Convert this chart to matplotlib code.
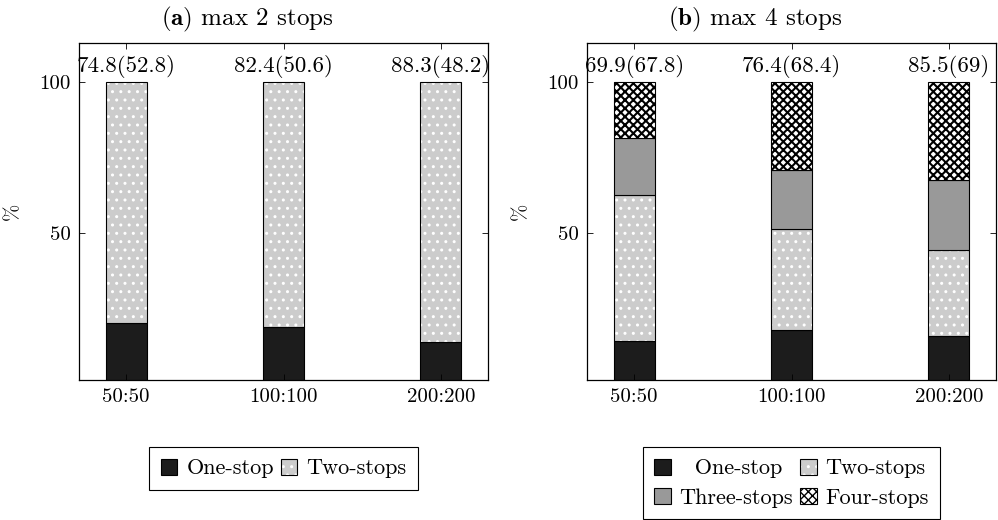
import numpy as np
import matplotlib.pyplot as plt
from matplotlib.patches import Patch
from matplotlib.legend_handler import HandlerTuple

plt.rcParams['font.family'] = ['cmr10', 'DejaVu Serif']
plt.rcParams['mathtext.fontset'] = 'cm'
plt.rcParams['axes.formatter.use_mathtext'] = True
plt.rcParams['hatch.linewidth'] = 1.0

# data
categories = ["50:50", "100:100", "200:200"]
y_ticks = [50, 100]

a_one = [20.1, 18.7, 14.0]
a_two = [79.9, 81.3, 86.0]
a_labels = ["74.8(52.8)", "82.4(50.6)", "88.3(48.2)"]

b_one = [14.2, 17.9, 15.9]
b_two = [48.4, 33.3, 28.5]
b_three = [19.0, 19.7, 23.1]
b_four = [18.4, 29.1, 32.5]
b_labels = ["69.9(67.8)", "76.4(68.4)", "85.5(69)"]

# fill colour, hatch, hatch colour
styles = {
    "One-stop": ("#1c1c1c", None, None),
    "Two-stops": ("#cccccc", "..", "white"),
    "Three-stops": ("#999999", None, None),
    "Four-stops": ("white", "xxxx", "black"),
}

FS = 15
BAR_W = 0.26
CROSS_LW = 1.5


def thick_hatch(artists):
    for p in artists:
        if hasattr(p, "set_hatch_linewidth"):
            p.set_hatch_linewidth(CROSS_LW)


def draw_stack(ax, series, names, labels):
    x = np.arange(len(categories))
    bottom = np.zeros(len(categories))
    for vals, name in zip(series, names):
        face, hatch, hcol = styles[name]
        vals = np.asarray(vals)
        ax.bar(x, vals, BAR_W, bottom=bottom, color=face, linewidth=0)
        if hatch:
            lw = CROSS_LW if name == "Four-stops" else 1.0
            with plt.rc_context({"hatch.linewidth": lw}):
                bars = ax.bar(x, vals, BAR_W, bottom=bottom, color="none",
                              edgecolor=hcol, hatch=hatch, linewidth=0)
            if name == "Four-stops":
                thick_hatch(bars)
        ax.bar(x, vals, BAR_W, bottom=bottom, color="none",
               edgecolor="black", linewidth=0.8)
        bottom += vals
    for xi, top, lab in zip(x, bottom, labels):
        ax.annotate(lab, (xi, top), xytext=(0, 3), textcoords="offset points",
                    ha="center", va="bottom", fontsize=16.5)

    ax.set_xlim(-0.3, 2.3)
    ax.set_ylim(1.3, 112.9)
    ax.set_xticks(x)
    ax.set_xticklabels(categories, fontsize=FS)
    ax.set_yticks(y_ticks)
    ax.set_yticklabels([str(t) for t in y_ticks], fontsize=FS)
    ax.tick_params(direction="in", top=True, right=True, length=4, width=0.6)
    ax.tick_params(axis="x", pad=6)
    ax.tick_params(axis="y", pad=6)
    for s in ax.spines.values():
        s.set_linewidth(0.9)
    ax.set_ylabel("%", fontsize=FS)
    ax.yaxis.set_label_coords(-0.139, 0.5)


def handle(name):
    face, hatch, hcol = styles[name]
    if name == "Two-stops":
        return (Patch(facecolor=face, linewidth=0),
                Patch(facecolor="none", edgecolor=hcol, hatch=hatch, linewidth=0),
                Patch(facecolor="none", edgecolor="black", linewidth=0.8))
    if hatch:
        with plt.rc_context({"hatch.linewidth": CROSS_LW}):
            p = Patch(facecolor=face, edgecolor=hcol, hatch=hatch, linewidth=0.8)
        thick_hatch([p])
        return p
    return Patch(facecolor=face, edgecolor="black", linewidth=0.8)


fig = plt.figure(figsize=(9.98, 5.2), dpi=100)
W, H = 998, 520
ax_a = fig.add_axes([79 / W, 1 - 380 / H, 409 / W, 337 / H])
ax_b = fig.add_axes([587 / W, 1 - 380 / H, 409 / W, 337 / H])

names_a = ["One-stop", "Two-stops"]
names_b = ["One-stop", "Two-stops", "Three-stops", "Four-stops"]
draw_stack(ax_a, [a_one, a_two], names_a, a_labels)
draw_stack(ax_b, [b_one, b_two, b_three, b_four], names_b, b_labels)

# captions are centred on the subfigure, not on the axes
fig.text(247 / W, 1 - 19 / H, r"$\mathbf{(a)}$ max 2 stops",
         ha="center", va="center", fontsize=18)
fig.text(755 / W, 1 - 19 / H, r"$\mathbf{(b)}$ max 4 stops",
         ha="center", va="center", fontsize=18)

leg_kw = dict(loc="upper center", borderaxespad=0, fancybox=False,
              edgecolor="black", framealpha=1, fontsize=16,
              handlelength=0.75, handleheight=0.75, handletextpad=0.4,
              columnspacing=0.3, labelspacing=0.42, borderpad=0.52,
              handler_map={tuple: HandlerTuple(ndivide=1, pad=0)})
leg_a = fig.legend([handle(n) for n in names_a], names_a, ncol=2,
                   bbox_to_anchor=(283.5 / W, 1 - 447 / H), **leg_kw)
order_b = ["One-stop", "Three-stops", "Two-stops", "Four-stops"]
shown_b = ["  One-stop", "Three-stops", "Two-stops", "Four-stops"]
leg_b = fig.legend([handle(n) for n in order_b], shown_b, ncol=2,
                   bbox_to_anchor=(791.5 / W, 1 - 447 / H), **leg_kw)
for leg in (leg_a, leg_b):
    leg.get_frame().set_linewidth(0.8)

fig.savefig("out.png", dpi=100)
